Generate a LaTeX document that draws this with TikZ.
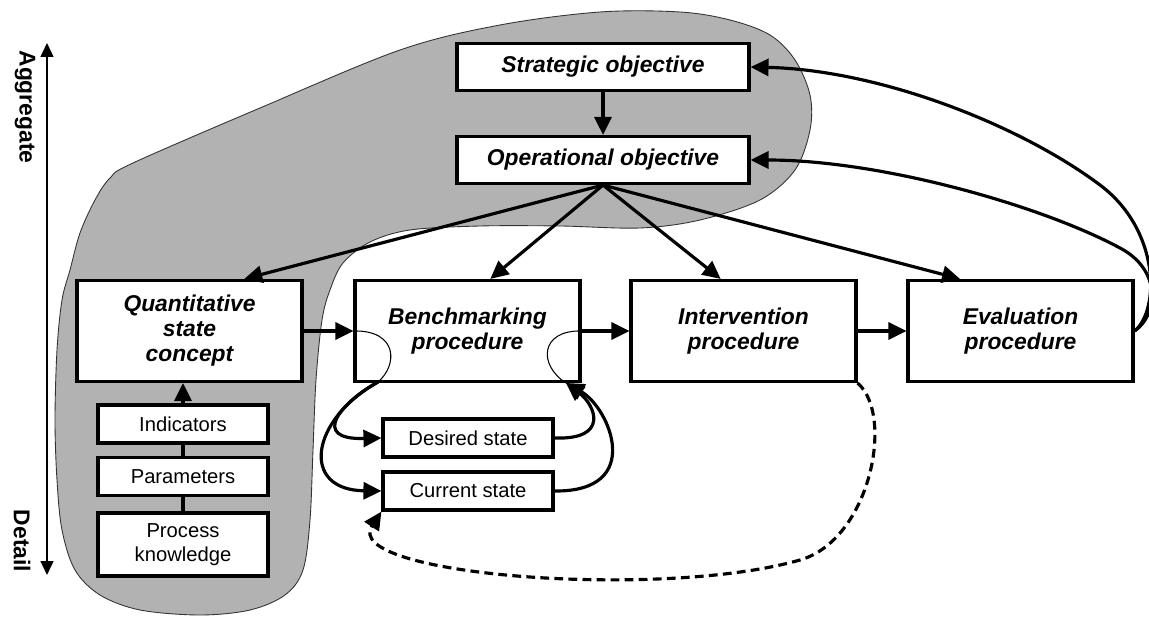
\documentclass[tikz,border=0pt]{standalone}
\usepackage{fontspec}
\setmainfont{Liberation Sans}
\usepackage{tikz}
\usetikzlibrary{calc}
\usetikzlibrary{arrows.meta}

\begin{document}
\begin{tikzpicture}[x=0.02cm, y=-0.02cm,
    box/.style={draw, line width=1.8pt, fill=white, align=center, inner sep=1pt},
    bigbox/.style={box, minimum width=4.5cm, minimum height=2.02cm,
      font=\fontsize{13}{14.2}\selectfont\bfseries\itshape},
    objbox/.style={box, minimum width=5.84cm, minimum height=0.94cm,
      font=\fontsize{13}{14.2}\selectfont\bfseries\itshape},
    smallbox/.style={box, minimum width=3.4cm, minimum height=0.76cm,
      font=\fontsize{11.5}{14}\selectfont},
    flow/.style={line width=1.8pt, -{Triangle[length=0.36cm, width=0.34cm]}},
    thinloop/.style={line width=0.6pt},
    axis/.style={line width=0.8pt,
      {Triangle[length=0.28cm, width=0.26cm]}-{Triangle[length=0.28cm, width=0.26cm]}},
    axlabel/.style={rotate=-90, font=\fontsize{13}{14}\selectfont\bfseries}]
      \useasboundingbox (0,0) rectangle (1149,617);
      \filldraw[fill=black!30, draw=black!80, line width=0.5pt]
        plot[smooth cycle, tension=0.55] coordinates {
          (133,163) (110,178) (95,200) (80,233) (70,270) (62,300) (57,350)
          (55,420) (57,480) (62,530) (75,570) (100,595) (140,610) (200,615)
          (250,610) (285,595) (303,570) (310,520) (313,450) (316,380)
          (322,320) (330,290) (343,263) (370,242) (410,230) (480,226)
          (560,226) (640,228) (700,220) (760,200) (795,170) (810,130)
          (810,95) (795,60) (770,35) (730,20) (680,12) (600,12) (500,25)
          (400,50) (260,108)};

      \node[axlabel] (agg) at (25,107) {Aggregate};
      \node[axlabel] (det) at (22,541) {Detail};
      \coordinate (top) at (47,43);
      \coordinate (bot) at (47,575);
      \draw[axis] (bot) -- (top);

      \node[objbox] (strat) at (603,67) {Strategic objective};
      \node[objbox] (oper) at (603,160) {Operational objective};
      \node[bigbox] (quant) at (189.5,331) {Quantitative\\state\\concept};
      \node[bigbox] (bench) at (467.5,331) {Benchmarking\\procedure};
      \node[bigbox] (interv) at (743.5,331) {Intervention\\procedure};
      \node[bigbox] (eval) at (1020.5,331) {Evaluation\\procedure};
      \node[smallbox] (ind) at (183,424) {Indicators};
      \node[smallbox] (param) at (183,476.5) {Parameters};
      \node[smallbox, minimum height=1.26cm] (pk) at (183,544.5) {Process\\knowledge};
      \node[smallbox] (desired) at (468,438) {Desired state};
      \node[smallbox] (current) at (468,491) {Current state};

      \draw[flow] (strat) -- (oper);
      \foreach \n/\f in {quant/0.74, bench/0.6, interv/0.4, eval/0.235}
        \draw[flow] (oper.south) -- ($(\n.north west)!\f!(\n.north east)$);
      \foreach \a/\b in {quant/bench, bench/interv, interv/eval}
        \draw[flow] (\a) -- (\b);
      \draw[line width=1.8pt] (pk) -- (param) -- (ind);
      \draw[flow] (ind.north) -- (ind.north |- quant.south);

      \draw[flow] (eval.east) .. controls (1160,310) and (1160,230) .. (1100,185)
        .. controls (1020,125) and (880,70) .. (strat.east);
      \draw[flow] (eval.east) .. controls (1158,315) and (1162,270) .. (1120,248)
        .. controls (1040,205) and (880,160) .. (oper.east);

      \coordinate (bin) at (378,382);
      \coordinate (bout) at (566,383);
      \draw[thinloop] (bench.west) .. controls (398,330) and (398,365) .. (bin);
      \draw[thinloop] (bench.east) .. controls (540,330) and (538,365) .. (bout);
      \draw[flow] (bin) .. controls (340,403) and (310,440) .. (desired.west);
      \draw[flow] (bin) .. controls (310,420) and (300,490) .. (current.west);
      \draw[flow] (desired.east) .. controls (610,440) and (595,405) .. (bout);
      \draw[flow] (current.east) .. controls (645,492) and (610,408) .. (bout);

      \draw[flow, dash pattern=on 5pt off 3pt] (interv.south east)
        .. controls (895,415) and (870,540) .. (800,560)
        .. controls (660,600) and (340,575) .. (current.south west);
    \end{tikzpicture}
\end{document}
